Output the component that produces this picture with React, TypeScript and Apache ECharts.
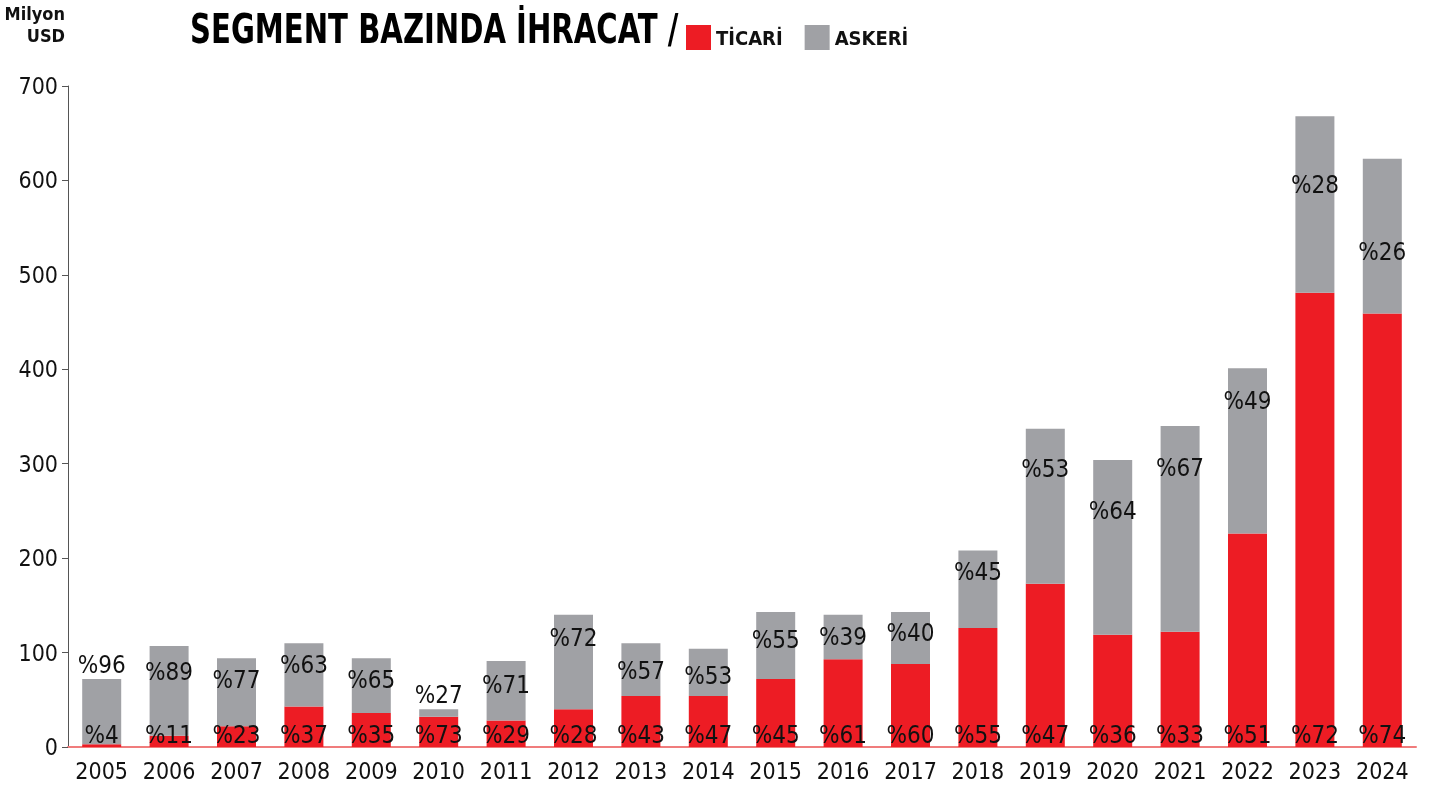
import React, { useEffect, useRef } from "react";
import * as echarts from "echarts";

const years = ["2005","2006","2007","2008","2009","2010","2011","2012","2013","2014","2015","2016","2017","2018","2019","2020","2021","2022","2023","2024"];
const totals = [72, 107, 94, 110, 94, 40, 91, 140, 110, 104, 143, 140, 143, 208, 337, 304, 340, 401, 668, 623];
const ticari = [3, 12, 22, 43, 36, 32, 28, 40, 54, 54, 72, 93, 88, 126, 173, 119, 122, 226, 481, 459];
const ticariPct = [4, 11, 23, 37, 35, 73, 29, 28, 43, 47, 45, 61, 60, 55, 47, 36, 33, 51, 72, 74];
const askeriPct = [96, 89, 77, 63, 65, 27, 71, 72, 57, 53, 55, 39, 40, 45, 53, 64, 67, 49, 28, 26];
const yTicks = [0, 100, 200, 300, 400, 500, 600, 700];

// label placement tweaks (pixels below the top of the grey segment)
const askeriLabelDrop = [0, 6, 2, 2, 2, 0, 4, 3, 8, 7, 8, 2, 1, 1, 20, 31, 22, 13, 49, 73];

const FONT = "'Liberation Sans Narrow', 'DejaVu Sans Condensed', 'Roboto', sans-serif";
const RED = "#ED1C24";
const GRAY = "#A0A1A5";

export default function App() {
  const ref = useRef<HTMLDivElement>(null);
  useEffect(() => {
    if (!ref.current) return;
    const chart = echarts.init(ref.current, null, { renderer: "svg" });
    const askeri = totals.map((t, i) => t - ticari[i]);
    chart.setOption({
      animation: false,
      textStyle: { fontFamily: FONT },
      grid: { left: 68, right: 29, top: 86, bottom: 45, containLabel: false },
      legend: {
        left: 681,
        top: 20,
        itemWidth: 25,
        itemHeight: 25,
        itemGap: 22,
        icon: "rect",
        selectedMode: false,
        textStyle: { fontFamily: FONT, fontWeight: "bold", fontSize: 20, color: "#111" },
        data: ["TİCARİ", "ASKERİ"],
      },
      graphic: [
        {
          type: "text",
          x: 65,
          y: 2,
          style: {
            text: "Milyon\nUSD",
            fontFamily: FONT,
            fontWeight: "bold",
            fontSize: 18,
            lineHeight: 22,
            fill: "#111",
            align: "right",
          },
        },
        {
          type: "text",
          x: 190,
          y: 9,
          scaleX: 0.9,
          scaleY: 1.12,
          style: {
            text: "SEGMENT BAZINDA İHRACAT /",
            fontFamily: FONT,
            fontWeight: "bold",
            fontSize: 36,
            fill: "#000",
          },
        },
      ],
      xAxis: {
        type: "category",
        data: years,
        axisLine: { show: true, lineStyle: { color: "#F07C7C", width: 2 } },
        axisTick: { show: false },
        axisLabel: { fontFamily: FONT, fontSize: 23, color: "#111", margin: 12, interval: 0 },
      },
      yAxis: {
        type: "value",
        min: 0,
        max: 700,
        interval: 100,
        axisLine: { show: true, lineStyle: { color: "#555", width: 1 } },
        axisTick: { show: true, length: 6, lineStyle: { color: "#555" } },
        splitLine: { show: false },
        axisLabel: {
          fontFamily: FONT,
          fontSize: 23,
          color: "#111",
          margin: 10,
          formatter: (v: number) => (yTicks.includes(v) ? String(v) : ""),
        },
      },
      series: [
        {
          name: "TİCARİ",
          type: "bar",
          stack: "total",
          barWidth: 39,
          itemStyle: { color: RED },
          data: ticari,
          label: {
            show: true,
            position: "insideBottom",
            distance: 0,
            fontFamily: FONT,
            fontSize: 24,
            color: "#111",
            formatter: (p: any) => "%" + ticariPct[p.dataIndex],
          },
        },
        {
          name: "ASKERİ",
          type: "bar",
          stack: "total",
          barWidth: 39,
          itemStyle: { color: GRAY },
          data: askeri.map((v, i) => ({
            value: v,
            label: v < 10 || i === 0
              ? { position: "top", distance: 2 }
              : { position: "insideTop", distance: 8 + askeriLabelDrop[i] },
          })),
          label: {
            show: true,
            position: "insideTop",
            distance: 10,
            fontFamily: FONT,
            fontSize: 24,
            color: "#111",
            formatter: (p: any) => "%" + askeriPct[p.dataIndex],
          },
        },
      ],
    });
    return () => chart.dispose();
  }, []);
  return <div ref={ref} style={{ position: "fixed", left: 0, top: 0, width: 1445, height: 792 }} />;
}
